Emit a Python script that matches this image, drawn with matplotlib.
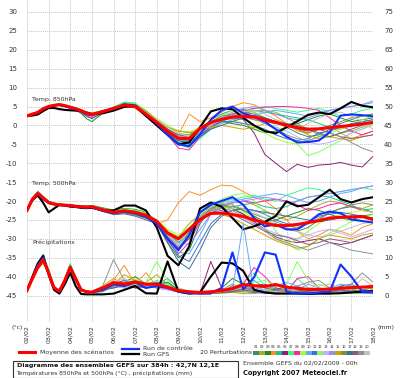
import matplotlib.pyplot as plt
from matplotlib.lines import Line2D
from matplotlib.patches import Rectangle

# time in days from 02/02 00h (6h steps to day 3, then 12h)
t = [0, 0.25, 0.5, 0.75, 1, 1.25, 1.5, 1.75, 2, 2.25, 2.5, 2.75, 3,
     3.5, 4, 4.5, 5, 5.5, 6, 6.5, 7, 7.5, 8, 8.5, 9, 9.5, 10, 10.5, 11,
     11.5, 12, 12.5, 13, 13.5, 14, 14.5, 15, 15.5, 16]
dates = ['02/02', '03/02', '04/02', '05/02', '06/02', '07/02', '08/02', '09/02', '10/02',
         '11/02', '12/02', '13/02', '14/02', '15/02', '16/02', '17/02', '18/02']

mean_850 = [2.5, 3.0, 3.4, 4.4, 5.0, 5.3, 5.5, 5.2, 4.8, 4.4, 3.9, 3.2, 2.9, 3.6, 4.5, 5.4, 5.0, 3.0,
            0.8, -1.6, -3.4, -3.5, -0.8, 0.8, 1.6, 2.2, 2.4, 2.2, 1.5, 0.8, 0.0, -0.6, -1.0, -0.9, -0.6, -0.3, 0.0, 0.4, 0.8]
ctrl_850 = [2.5, 3.0, 3.5, 4.5, 5.0, 5.3, 5.4, 5.1, 4.7, 4.2, 3.7, 3.0, 2.7, 3.8, 4.3, 5.6, 5.3, 3.0,
            0.5, -2.5, -5.0, -5.5, -2.4, 1.5, 4.0, 5.0, 3.2, 2.3, 1.0, -1.0, -3.0, -4.5, -4.4, -4.0, -1.8, 2.6, 2.9, 2.7, 2.4]
gfs_850 = [2.5, 2.6, 2.9, 3.8, 4.6, 4.6, 4.3, 4.1, 4.0, 3.9, 3.8, 3.4, 3.0, 3.2, 3.9, 4.9, 5.1, 2.5,
           0.0, -2.5, -5.0, -4.5, -0.5, 3.7, 4.5, 4.3, 2.0, 0.0, -1.5, -2.1, -0.5, 1.1, 2.8, 3.4, 3.0, 4.5, 6.2, 5.2, 4.8]

mean_500 = [-22.5, -19.5, -18.0, -19.2, -20.4, -20.8, -21.0, -21.1, -21.2, -21.4, -21.5, -21.6, -21.5, -22.3, -23.0, -22.6, -23.0, -23.8,
            -25.4, -28.5, -30.0, -27.5, -24.9, -23.3, -23.2, -23.6, -24.1, -25.0, -25.8, -26.5, -26.5, -26.2, -25.7, -25.2, -24.5, -24.3, -24.2, -24.1, -24.9]
ctrl_500 = [-22.5, -19.5, -18.2, -19.5, -20.5, -20.8, -21.0, -21.2, -21.3, -21.5, -21.6, -21.8, -21.6, -22.6, -23.2, -22.8, -23.3, -24.2,
            -26.0, -30.0, -33.0, -29.0, -23.0, -21.0, -20.0, -19.0, -21.0, -24.5, -26.7, -26.2, -27.5, -27.5, -25.7, -23.5, -22.8, -23.2, -24.9, -25.3, -25.7]
gfs_500 = [-22.5, -19.8, -18.5, -20.5, -23.0, -22.0, -21.0, -21.2, -21.5, -21.6, -21.8, -21.9, -21.8, -22.5, -22.5, -21.2, -21.2, -22.5,
           -27.0, -34.5, -37.0, -32.0, -22.0, -20.4, -21.5, -24.5, -27.5, -26.7, -25.5, -24.0, -20.1, -21.4, -21.0, -19.0, -17.0, -19.5, -20.4, -19.5, -19.0]

mean_rr = [1.3, 4.5, 7.5, 9.5, 6.0, 2.0, 1.2, 4.0, 7.5, 4.5, 1.5, 1.0, 0.9, 2.0, 3.4, 3.0, 3.6, 3.0, 3.0, 2.2, 1.3, 1.0, 0.8,
           1.0, 1.3, 1.8, 2.9, 2.6, 2.4, 2.9, 2.2, 1.9, 1.6, 1.6, 1.7, 1.9, 2.1, 2.2, 2.4]
ctrl_rr = [1.3, 4.5, 8.0, 10.0, 6.0, 2.0, 1.0, 3.8, 7.5, 4.2, 1.5, 1.0, 0.8, 1.5, 3.0, 2.5, 3.5, 2.0, 2.5, 2.0, 1.0, 0.6, 0.5,
           0.6, 2.0, 11.4, 1.6, 4.8, 11.4, 10.8, 1.0, 0.5, 0.5, 0.8, 1.0, 8.2, 5.0, 1.0, 1.0]
gfs_rr = [1.3, 5.0, 8.5, 10.5, 5.5, 1.5, 0.5, 3.0, 6.0, 2.5, 0.4, 0.3, 0.3, 0.3, 0.5, 1.5, 2.5, 0.6, 0.5, 9.0, 1.0, 0.5, 0.8,
          5.0, 8.7, 8.5, 6.5, 1.5, 0.8, 0.5, 0.5, 0.5, 0.4, 0.5, 0.5, 0.6, 0.8, 1.0, 1.2]

# 20 perturbations, 850hPa: days 0-5.5 / days 6-16
pert_850_a = [
    [2.5, 3.1, 3.5, 4.5, 5.1, 5.4, 5.4, 5.0, 4.6, 4.2, 3.6, 2.8, 2.5, 3.5, 4.4, 5.6, 5.3, 3.4],
    [2.5, 3.0, 3.3, 4.3, 4.9, 5.2, 5.5, 5.3, 5.0, 4.6, 4.1, 3.5, 3.2, 3.8, 4.6, 5.5, 5.6, 3.8],
    [2.5, 2.9, 3.3, 4.2, 4.8, 5.1, 5.3, 5.0, 4.5, 4.0, 3.2, 1.8, 1.0, 3.2, 4.3, 5.2, 4.8, 2.4],
    [2.5, 3.1, 3.6, 4.5, 5.1, 5.4, 5.6, 5.3, 4.9, 4.5, 4.0, 3.4, 3.0, 3.4, 4.2, 5.0, 4.6, 2.8],
    [2.5, 3.0, 3.4, 4.4, 5.0, 5.4, 5.7, 5.4, 5.0, 4.5, 3.8, 3.0, 2.6, 3.9, 4.8, 6.0, 5.8, 3.5],
    [2.5, 3.0, 3.5, 4.4, 5.0, 5.2, 5.4, 5.1, 4.7, 4.3, 3.8, 3.1, 2.8, 3.5, 4.5, 5.3, 5.0, 3.0],
    [2.5, 3.1, 3.4, 4.5, 5.1, 5.5, 5.8, 5.5, 5.1, 4.7, 4.0, 3.2, 2.4, 3.6, 4.9, 6.2, 5.9, 3.9],
    [2.5, 2.9, 3.3, 4.3, 4.9, 5.2, 5.4, 5.1, 4.7, 4.2, 3.6, 2.6, 2.0, 3.3, 4.4, 5.3, 4.8, 2.6],
    [2.5, 3.0, 3.4, 4.4, 5.0, 5.3, 5.5, 5.3, 4.9, 4.5, 4.0, 3.4, 3.1, 3.7, 4.6, 5.5, 5.5, 3.6],
    [2.5, 3.0, 3.5, 4.5, 5.0, 5.3, 5.4, 5.1, 4.8, 4.4, 3.9, 3.2, 3.0, 3.7, 4.5, 5.4, 5.0, 3.1],
    [2.5, 3.0, 3.3, 4.3, 4.9, 5.3, 5.5, 5.2, 4.8, 4.3, 3.7, 2.9, 2.5, 3.4, 4.4, 5.3, 4.9, 2.9],
    [2.5, 3.1, 3.5, 4.5, 5.1, 5.4, 5.6, 5.3, 4.9, 4.5, 4.1, 3.5, 3.2, 3.9, 4.7, 5.8, 5.7, 3.7],
    [2.5, 3.0, 3.4, 4.4, 5.0, 5.2, 5.4, 5.2, 4.8, 4.4, 3.8, 3.1, 2.7, 3.5, 4.4, 5.4, 5.1, 3.1],
    [2.5, 3.0, 3.4, 4.4, 5.0, 5.3, 5.5, 5.2, 4.9, 4.5, 4.0, 3.3, 3.1, 3.8, 4.6, 5.5, 5.3, 3.2],
    [2.5, 3.0, 3.5, 4.5, 5.1, 5.4, 5.6, 5.4, 5.0, 4.6, 4.2, 3.6, 3.3, 3.9, 4.7, 5.6, 5.6, 3.9],
    [2.5, 3.0, 3.3, 4.3, 4.9, 5.2, 5.4, 5.1, 4.7, 4.3, 3.7, 3.0, 2.7, 3.6, 4.5, 5.4, 5.2, 3.3],
    [2.5, 2.9, 3.3, 4.3, 4.9, 5.2, 5.3, 5.0, 4.6, 4.1, 3.4, 2.4, 1.8, 3.3, 4.3, 5.2, 4.7, 2.6],
    [2.5, 3.0, 3.4, 4.4, 5.0, 5.3, 5.5, 5.2, 4.8, 4.4, 3.9, 3.2, 2.9, 3.6, 4.5, 5.4, 5.1, 3.2],
    [2.5, 3.0, 3.4, 4.4, 5.0, 5.3, 5.5, 5.3, 4.9, 4.5, 4.0, 3.3, 3.0, 3.6, 4.5, 5.3, 5.0, 3.0],
    [2.5, 3.1, 3.5, 4.5, 5.1, 5.3, 5.5, 5.2, 4.8, 4.4, 3.9, 3.3, 3.0, 3.7, 4.6, 5.5, 5.3, 3.4],
]
pert_850_b = [
    [1.2, -1.0, -3.0, -4.0, -1.5, 1.5, 3.0, 4.0, 4.2, 3.5, 2.0, 1.0, -0.5, -2.0, -3.0, -2.5, -1.0, 0.5, 1.5, 2.5, 3.0],
    [1.5, -0.5, -1.5, -1.8, -1.0, 0.5, 2.0, 2.5, 3.0, 3.8, 4.0, 3.5, 2.0, 0.5, -1.0, -2.5, -3.0, -2.0, -1.5, -0.5, 0.5],
    [0.5, -2.0, -4.5, -5.5, -3.0, 0.0, 1.0, 0.5, 0.0, -1.0, -2.0, -1.5, -0.5, 0.5, 1.5, 2.5, 3.0, 2.0, 1.0, 1.5, 2.0],
    [1.0, -1.5, -2.5, 3.0, 1.0, 2.0, 3.5, 5.0, 6.0, 5.5, 4.0, 2.5, 0.5, -1.5, -2.0, -1.0, 0.0, -2.0, -3.5, -2.5, -1.5],
    [0.8, -1.5, -3.5, -4.5, -2.0, 0.0, 1.5, 2.5, 3.5, 4.0, 3.5, 3.0, 2.5, 2.0, 1.5, 0.5, -0.5, -1.0, 0.0, 1.0, 1.5],
    [1.0, -1.5, -3.5, -4.0, -1.5, 0.5, 1.5, 2.0, 1.6, -2.0, -7.7, -10.0, -12.2, -10.3, -11.1, -10.5, -10.3, -9.8, -10.5, -11.0, -8.2],
    [1.5, -1.0, -5.0, -6.0, -3.5, -1.0, 1.0, 2.0, 3.0, 4.5, 5.0, 4.5, 4.0, 3.5, 4.0, 4.5, 3.5, 2.5, 3.0, 4.0, 4.5],
    [0.5, -2.5, -6.0, -6.5, -3.0, -0.5, 1.5, 3.0, 4.0, 4.5, 4.8, 5.0, 5.0, 4.8, 4.5, 4.0, 2.0, 0.0, -1.5, -2.5, -1.5],
    [1.8, 0.0, -1.5, -1.8, -0.5, 1.0, 2.0, 1.5, 0.5, -0.5, -2.0, -3.5, -4.5, -5.0, -4.0, -3.0, -2.0, -1.0, 0.0, 1.5, 2.5],
    [1.2, -1.0, -3.5, -5.0, -3.0, -1.0, 0.5, 1.5, 2.0, 2.5, 3.5, 4.0, 3.5, 3.0, 2.5, 3.5, 4.0, 4.5, 5.0, 5.5, 6.0],
    [0.5, -2.0, -4.0, -4.5, -2.5, -0.5, 1.0, 1.0, 0.5, 0.0, -1.0, -2.5, -3.5, -4.0, -3.5, -2.0, -1.5, -0.5, 0.5, 1.0, 1.5],
    [1.5, -0.5, -2.0, -2.5, -1.0, 0.5, 2.5, 4.0, 4.5, 3.5, 2.0, 0.0, -2.5, -5.0, -8.0, -7.0, -5.5, -4.0, -2.0, -1.0, 0.0],
    [1.0, -1.5, -3.0, -3.5, -2.0, 0.0, 1.5, 2.5, 2.0, 1.5, 0.5, -0.5, -1.5, -3.0, -4.5, -5.0, -4.5, -3.5, -2.0, -1.0, 0.5],
    [0.8, -1.5, -3.0, -3.0, -1.5, 0.5, 2.0, 3.5, 4.5, 5.0, 4.0, 3.0, 2.0, 1.5, 2.0, 3.0, 4.0, 4.5, 5.0, 5.5, 6.5],
    [1.5, -0.5, -1.5, -2.0, -1.5, -0.5, 0.0, -0.5, -1.0, -0.5, 0.5, 1.5, 0.5, -1.0, -2.5, -3.5, -3.0, -3.5, -4.0, -3.0, -2.5],
    [1.0, -1.0, -2.5, -2.5, -1.0, 1.0, 2.5, 3.0, 2.5, 1.5, 1.0, 0.5, 0.0, -1.0, -2.0, -1.0, 0.0, 1.0, 2.0, 2.5, 3.0],
    [0.5, -2.0, -4.0, -5.0, -3.0, -1.0, 0.0, 1.0, 2.0, 2.5, 2.0, 1.0, 0.5, 0.0, -1.0, -2.0, -3.0, -2.0, -1.0, 0.0, 1.0],
    [1.2, -1.0, -2.5, -3.0, -1.5, 0.0, 1.0, 2.5, 3.5, 3.0, 2.0, 1.0, 0.0, -1.0, -1.5, -1.0, -2.0, -3.0, -3.5, -3.0, -2.5],
    [1.0, -1.5, -3.5, -4.0, -2.0, 0.5, 2.0, 3.0, 3.0, 2.0, 0.5, -1.0, -2.5, -3.5, -4.0, -3.0, -2.0, -3.0, -4.5, -6.0, -7.0],
    [1.5, -0.5, -2.0, -3.0, -1.5, 0.0, 1.5, 2.5, 3.5, 4.0, 3.0, 1.5, 0.0, -1.0, 0.5, 2.0, 3.0, 3.5, 2.5, 1.0, -1.0],
]

# 20 perturbations, 500hPa: days 0-5.5 / days 6-16
pert_500_a = [
    [-22.5, -19.3, -17.6, -19.0, -20.3, -20.7, -20.9, -21.0, -21.1, -21.3, -21.4, -21.5, -21.3, -22.0, -22.6, -22.0, -22.5, -23.3],
    [-22.5, -19.6, -18.2, -19.4, -20.6, -21.0, -21.2, -21.3, -21.4, -21.6, -21.8, -21.9, -21.8, -22.8, -23.5, -23.2, -23.8, -24.6],
    [-22.5, -19.4, -17.9, -19.1, -20.2, -20.6, -20.8, -20.9, -21.0, -21.2, -21.3, -21.3, -21.2, -21.8, -22.4, -22.0, -22.2, -23.0],
    [-22.5, -19.7, -18.4, -19.6, -20.8, -21.1, -21.3, -21.3, -21.3, -21.5, -21.6, -21.7, -21.6, -22.5, -23.4, -23.0, -23.5, -24.5],
    [-22.5, -19.2, -17.4, -18.8, -20.0, -20.5, -20.8, -21.0, -21.0, -21.2, -21.3, -21.4, -21.2, -21.9, -22.7, -22.2, -22.6, -23.4],
    [-22.5, -19.5, -18.1, -19.3, -20.5, -20.9, -21.1, -21.2, -21.3, -21.5, -21.6, -21.7, -21.6, -22.4, -23.1, -22.8, -23.2, -24.0],
    [-22.5, -19.4, -17.8, -19.1, -20.3, -20.7, -20.9, -21.0, -21.1, -21.3, -21.4, -21.5, -21.4, -22.1, -22.7, -22.3, -22.6, -23.3],
    [-22.5, -19.6, -18.3, -19.5, -20.6, -21.0, -21.2, -21.2, -21.3, -21.5, -21.7, -21.8, -21.7, -22.6, -23.3, -23.0, -23.4, -24.3],
    [-22.5, -19.5, -18.0, -19.2, -20.4, -20.8, -21.0, -21.1, -21.2, -21.4, -21.5, -21.6, -21.5, -22.2, -22.8, -22.3, -22.8, -23.6],
    [-22.5, -19.3, -17.7, -19.0, -20.2, -20.6, -20.9, -21.0, -21.1, -21.3, -21.5, -21.6, -21.5, -22.4, -23.2, -22.9, -23.4, -24.3],
    [-22.5, -19.6, -18.2, -19.4, -20.5, -20.9, -21.1, -21.2, -21.3, -21.5, -21.6, -21.7, -21.6, -22.5, -23.3, -23.1, -23.6, -24.5],
    [-22.5, -19.4, -17.9, -19.1, -20.3, -20.7, -20.9, -21.0, -21.1, -21.3, -21.4, -21.4, -21.3, -22.0, -22.6, -22.1, -22.4, -23.1],
    [-22.5, -19.5, -18.0, -19.3, -20.5, -20.9, -21.1, -21.2, -21.3, -21.5, -21.6, -21.7, -21.6, -22.4, -23.0, -22.6, -23.0, -23.9],
    [-22.5, -19.5, -18.1, -19.2, -20.4, -20.8, -21.0, -21.1, -21.2, -21.4, -21.5, -21.6, -21.5, -22.3, -23.1, -22.7, -23.1, -24.0],
    [-22.5, -19.6, -18.3, -19.4, -20.5, -20.9, -21.0, -21.1, -21.2, -21.3, -21.4, -21.5, -21.4, -22.1, -22.8, -22.4, -22.7, -23.4],
    [-22.5, -19.4, -17.8, -19.1, -20.3, -20.8, -21.0, -21.1, -21.2, -21.4, -21.5, -21.6, -21.5, -22.3, -23.0, -22.6, -23.1, -23.9],
    [-22.5, -19.5, -18.1, -19.3, -20.5, -20.9, -21.1, -21.2, -21.4, -21.6, -21.7, -21.8, -21.7, -22.7, -23.6, -23.4, -24.0, -25.0],
    [-22.5, -19.5, -18.0, -19.2, -20.4, -20.8, -21.0, -21.1, -21.2, -21.4, -21.5, -21.6, -21.5, -22.2, -22.9, -22.5, -22.9, -23.7],
    [-22.5, -19.4, -17.9, -19.2, -20.4, -20.8, -21.0, -21.1, -21.2, -21.4, -21.6, -21.7, -21.6, -22.5, -23.2, -22.9, -23.3, -24.1],
    [-22.5, -19.6, -18.2, -19.3, -20.5, -20.9, -21.1, -21.2, -21.2, -21.4, -21.5, -21.6, -21.5, -22.3, -23.0, -22.6, -23.1, -23.8],
]
pert_500_b = [
    [-26.0, -30.0, -33.0, -28.0, -23.0, -21.5, -21.0, -22.0, -23.5, -25.0, -26.0, -26.5, -27.5, -28.0, -27.0, -25.0, -23.0, -22.0, -21.5, -22.0, -23.0],
    [-25.0, -28.0, -29.5, -26.0, -23.5, -22.0, -21.5, -20.5, -20.0, -21.0, -22.5, -24.0, -25.0, -24.0, -22.5, -21.0, -20.0, -20.5, -21.5, -22.0, -21.0],
    [-26.0, -31.0, -35.0, -33.0, -26.0, -22.0, -20.5, -21.0, -22.5, -24.0, -25.5, -25.0, -24.0, -23.0, -22.0, -22.5, -23.5, -24.5, -25.0, -24.0, -23.5],
    [-26.0, -25.0, -20.5, -17.5, -18.5, -17.0, -15.8, -16.0, -17.5, -19.0, -20.0, -22.0, -25.0, -28.0, -30.0, -29.0, -27.5, -28.0, -29.0, -27.0, -26.0],
    [-25.5, -29.0, -32.0, -30.0, -24.0, -22.5, -22.0, -21.5, -21.0, -20.5, -21.5, -22.0, -21.5, -20.0, -19.0, -18.5, -19.0, -20.0, -21.0, -22.5, -22.0],
    [-25.5, -29.0, -32.5, -29.0, -24.0, -22.0, -21.5, -22.0, -23.5, -25.5, -27.5, -29.5, -30.5, -31.0, -30.5, -30.0, -31.0, -31.5, -31.0, -30.0, -29.0],
    [-25.0, -28.0, -31.0, -29.5, -25.0, -22.0, -20.5, -19.5, -19.0, -18.5, -19.5, -20.0, -18.5, -17.5, -16.5, -17.0, -18.0, -17.5, -17.0, -16.5, -17.0],
    [-26.0, -30.5, -34.0, -31.0, -25.5, -22.5, -21.0, -20.5, -20.0, -20.5, -20.0, -19.5, -20.0, -21.0, -22.5, -22.0, -21.0, -20.5, -21.5, -22.5, -23.0],
    [-25.0, -27.5, -29.0, -27.0, -24.0, -22.0, -21.5, -22.0, -23.0, -24.5, -27.0, -30.0, -31.5, -30.0, -28.0, -26.0, -24.5, -23.5, -23.0, -22.5, -23.0],
    [-25.5, -29.5, -33.5, -34.0, -29.0, -23.5, -21.0, -20.0, -19.5, -19.0, -18.5, -18.0, -18.5, -19.5, -20.5, -20.0, -19.0, -18.0, -17.5, -16.5, -16.0],
    [-26.0, -30.0, -34.5, -36.0, -31.0, -26.0, -23.5, -22.5, -22.0, -22.5, -23.5, -25.0, -26.0, -26.5, -25.5, -24.0, -23.5, -23.0, -23.5, -24.0, -24.5],
    [-25.0, -28.0, -30.5, -28.0, -23.5, -21.0, -19.5, -18.5, -18.0, -20.0, -23.0, -28.0, -31.0, -33.0, -32.0, -30.0, -28.5, -27.0, -25.5, -24.5, -23.5],
    [-25.5, -29.0, -31.5, -29.5, -25.0, -22.5, -22.0, -23.0, -24.5, -26.0, -27.5, -28.5, -29.5, -30.0, -29.0, -28.0, -27.5, -28.5, -29.5, -28.5, -27.5],
    [-25.5, -28.5, -31.0, -31.5, -27.5, -23.5, -21.5, -20.5, -20.0, -19.5, -19.0, -19.5, -20.5, -20.0, -19.0, -18.5, -18.0, -17.5, -17.0, -16.5, -16.0],
    [-25.0, -28.0, -30.0, -27.5, -24.0, -23.0, -23.5, -24.5, -26.0, -27.5, -29.0, -30.5, -31.5, -32.5, -32.0, -30.0, -29.0, -29.5, -30.0, -29.0, -28.5],
    [-25.5, -29.0, -32.0, -30.0, -24.5, -22.0, -21.0, -21.5, -22.5, -23.5, -24.5, -25.5, -26.5, -27.0, -26.0, -24.5, -23.0, -22.0, -21.0, -20.5, -21.0],
    [-26.0, -31.0, -36.0, -38.0, -33.0, -27.0, -24.0, -22.5, -22.0, -22.5, -23.0, -23.5, -24.0, -24.5, -25.0, -25.5, -25.0, -24.5, -24.0, -24.0, -24.5],
    [-25.5, -29.5, -32.5, -30.0, -25.0, -23.0, -22.5, -23.5, -25.0, -26.5, -28.0, -29.0, -29.5, -30.5, -31.5, -31.0, -30.0, -30.5, -31.0, -30.0, -29.0],
    [-25.0, -28.5, -31.0, -28.5, -24.5, -22.5, -22.0, -22.5, -24.0, -26.0, -28.0, -30.0, -31.0, -32.0, -33.0, -32.0, -31.0, -32.0, -33.0, -33.5, -34.0],
    [-25.5, -29.0, -32.0, -29.0, -24.0, -21.5, -20.5, -21.0, -22.0, -23.0, -24.5, -26.0, -27.0, -28.0, -29.0, -29.5, -29.0, -28.0, -27.0, -26.0, -25.5],
]

# 20 perturbations, precipitation (mm)
pert_rr = [
    [1.3, 4.5, 7.5, 9.5, 6.0, 2.0, 1.0, 4.0, 7.5, 4.0, 1.5, 1.0, 0.8, 1.5, 3.5, 2.5, 4.0, 2.5, 3.0, 2.5, 1.5, 0.8, 0.5, 0.5, 1.0, 1.5, 2.5, 1.5, 1.0, 2.0, 1.5, 1.0, 0.8, 1.0, 1.5, 2.5, 3.0, 1.5, 1.0],
    [1.3, 4.0, 7.0, 8.5, 6.0, 2.5, 1.2, 4.5, 8.0, 4.5, 1.8, 1.2, 1.0, 2.5, 4.5, 3.0, 2.0, 3.5, 5.5, 3.0, 1.0, 0.6, 0.5, 1.0, 1.5, 0.8, 0.5, 0.5, 1.0, 1.5, 2.0, 1.0, 0.5, 0.5, 0.8, 1.5, 1.0, 0.8, 0.6],
    [1.3, 5.0, 8.0, 10.5, 6.5, 2.0, 1.0, 3.5, 7.0, 4.0, 1.5, 1.0, 0.8, 1.0, 2.5, 3.5, 5.0, 3.0, 2.5, 2.0, 1.5, 1.0, 0.5, 0.8, 2.0, 4.5, 3.0, 1.5, 0.8, 0.5, 0.8, 1.2, 1.0, 0.5, 0.5, 0.8, 1.0, 1.5, 2.0],
    [1.3, 4.5, 7.5, 9.0, 5.5, 1.8, 1.0, 3.8, 7.0, 3.8, 1.4, 1.0, 0.9, 2.0, 4.0, 8.0, 3.0, 6.0, 2.5, 3.5, 1.5, 0.8, 0.5, 0.5, 0.8, 1.0, 2.0, 1.5, 0.8, 1.0, 0.5, 0.5, 0.8, 1.5, 1.0, 0.8, 1.5, 2.5, 1.5],
    [1.3, 4.8, 8.0, 10.0, 6.5, 2.2, 1.2, 4.2, 8.0, 4.5, 1.6, 1.0, 0.9, 1.5, 3.0, 2.0, 3.5, 2.5, 3.0, 4.5, 2.0, 1.0, 0.6, 0.6, 0.8, 1.5, 2.5, 4.0, 2.0, 1.0, 0.8, 0.6, 0.5, 0.8, 1.2, 1.0, 0.8, 0.6, 0.5],
    [1.3, 4.5, 7.5, 9.5, 6.0, 2.0, 1.0, 4.0, 7.5, 4.0, 1.5, 1.0, 0.8, 1.5, 3.0, 4.0, 2.5, 2.0, 3.0, 2.0, 1.0, 0.5, 0.5, 9.0, 2.0, 1.0, 1.5, 2.5, 3.0, 1.5, 1.0, 0.8, 0.5, 0.6, 0.8, 1.0, 0.8, 0.6, 0.8],
    [1.3, 5.0, 8.5, 11.0, 7.0, 2.5, 1.2, 4.5, 8.5, 5.0, 1.8, 1.2, 1.0, 2.0, 2.5, 3.5, 4.0, 3.0, 4.0, 3.0, 1.5, 0.8, 0.5, 0.8, 1.0, 2.0, 3.5, 6.0, 2.5, 1.5, 1.0, 4.5, 2.0, 1.0, 0.8, 1.5, 2.0, 1.0, 0.8],
    [1.3, 4.2, 7.0, 9.0, 5.5, 1.8, 1.0, 3.6, 7.0, 3.8, 1.4, 1.0, 0.8, 1.8, 3.0, 2.5, 3.5, 2.5, 2.0, 1.5, 1.0, 0.6, 0.5, 0.5, 0.8, 1.5, 3.0, 7.4, 5.0, 2.0, 1.0, 4.5, 5.0, 2.0, 1.0, 0.8, 0.6, 1.5, 1.0],
    [1.3, 4.6, 7.8, 9.8, 6.2, 2.1, 1.1, 4.1, 7.8, 4.3, 1.6, 1.1, 0.9, 2.5, 3.5, 3.0, 4.5, 3.0, 2.5, 3.0, 2.0, 1.0, 0.6, 0.6, 1.0, 2.5, 1.5, 1.0, 0.8, 2.5, 2.0, 1.0, 1.5, 3.0, 2.0, 1.0, 0.8, 0.6, 0.5],
    [1.3, 4.4, 7.3, 9.2, 5.8, 1.9, 1.0, 3.9, 7.4, 4.0, 1.5, 1.0, 0.8, 1.2, 2.5, 3.0, 2.0, 2.5, 3.5, 2.5, 1.2, 0.7, 0.5, 0.5, 1.2, 1.5, 19.0, 1.0, 1.5, 2.5, 3.5, 2.5, 1.5, 1.0, 2.0, 3.0, 2.5, 1.5, 1.0],
    [1.3, 4.5, 7.6, 9.6, 6.1, 2.0, 1.0, 4.0, 7.6, 4.1, 1.5, 1.0, 0.8, 1.5, 2.0, 2.5, 3.0, 2.0, 2.5, 1.8, 1.0, 0.6, 0.5, 0.5, 0.8, 1.2, 1.0, 0.8, 0.6, 0.8, 1.0, 0.8, 0.6, 0.5, 0.8, 1.2, 1.0, 0.8, 0.6],
    [1.3, 5.0, 8.2, 10.2, 6.4, 2.1, 1.1, 4.3, 7.9, 4.4, 1.6, 1.1, 0.9, 2.0, 3.0, 2.5, 3.0, 3.5, 9.0, 4.0, 2.0, 0.8, 0.5, 0.6, 1.0, 1.5, 2.0, 3.5, 4.0, 2.5, 3.0, 9.0, 4.0, 2.0, 1.0, 0.8, 0.6, 0.5, 0.8],
    [1.3, 4.3, 7.2, 9.0, 5.7, 1.9, 1.0, 3.8, 7.2, 3.9, 1.5, 1.0, 0.8, 1.5, 2.5, 2.0, 3.0, 2.5, 2.0, 1.5, 1.0, 0.6, 0.5, 0.5, 1.0, 1.5, 2.5, 2.0, 1.5, 1.0, 1.5, 2.0, 1.5, 1.0, 1.5, 2.0, 1.5, 1.0, 1.2],
    [1.3, 4.6, 7.7, 9.7, 6.1, 2.0, 1.1, 4.1, 7.7, 4.2, 1.6, 1.0, 0.9, 1.8, 3.5, 2.5, 4.0, 3.0, 3.5, 2.5, 1.5, 0.8, 0.5, 0.5, 0.8, 1.0, 1.5, 2.0, 1.5, 1.0, 0.8, 1.5, 3.0, 2.0, 1.5, 1.0, 0.8, 0.6, 0.5],
    [1.3, 4.4, 7.4, 9.3, 5.9, 2.0, 1.0, 3.9, 7.5, 4.1, 1.5, 1.0, 0.8, 1.5, 3.0, 5.5, 4.0, 2.5, 3.0, 2.0, 1.0, 0.6, 0.5, 0.5, 0.6, 0.8, 1.0, 1.5, 1.0, 0.8, 0.6, 1.0, 2.0, 1.5, 1.0, 2.5, 1.5, 1.0, 0.8],
    [1.3, 4.5, 7.5, 9.4, 6.0, 2.0, 1.0, 4.0, 7.5, 4.0, 1.5, 1.0, 0.8, 1.2, 2.5, 3.5, 2.5, 3.0, 2.0, 2.5, 1.5, 0.7, 0.5, 0.6, 0.8, 1.0, 1.5, 2.5, 2.0, 1.5, 1.0, 0.8, 0.6, 0.8, 1.0, 1.5, 1.2, 0.8, 0.6],
    [1.3, 4.7, 7.9, 9.9, 6.3, 2.1, 1.1, 4.2, 7.8, 4.3, 1.6, 1.1, 0.9, 1.5, 2.0, 3.0, 3.5, 2.5, 3.0, 3.5, 1.5, 0.8, 0.5, 0.5, 0.8, 1.0, 2.0, 1.5, 1.0, 1.5, 2.5, 1.5, 1.0, 0.8, 1.0, 2.5, 1.5, 1.0, 0.8],
    [1.3, 4.3, 7.1, 9.0, 5.6, 1.9, 1.0, 3.7, 7.1, 3.9, 1.4, 1.0, 0.8, 1.5, 2.5, 3.0, 2.0, 2.5, 3.5, 2.0, 1.0, 0.6, 0.5, 0.5, 1.0, 2.5, 1.5, 1.0, 0.8, 0.6, 0.8, 1.0, 0.8, 0.6, 1.0, 1.5, 1.0, 0.8, 0.6],
    [1.3, 4.8, 8.1, 10.3, 6.5, 2.2, 1.2, 4.3, 8.1, 4.5, 1.7, 1.1, 0.9, 2.5, 9.5, 4.0, 3.0, 2.5, 3.0, 2.5, 1.5, 0.8, 0.5, 0.5, 1.5, 3.0, 2.0, 1.5, 1.0, 0.8, 1.5, 2.5, 3.5, 4.0, 2.0, 1.5, 3.0, 6.0, 3.5],
    [1.3, 4.4, 7.4, 9.4, 5.9, 1.9, 1.0, 3.9, 7.4, 4.0, 1.5, 1.0, 0.8, 1.5, 3.5, 4.5, 3.0, 2.5, 2.5, 2.0, 1.5, 0.7, 0.5, 0.6, 1.0, 1.5, 2.0, 2.5, 1.5, 1.0, 0.8, 1.5, 2.0, 2.5, 3.0, 2.0, 1.5, 4.5, 2.5],
]

member_colors = ['#3a8a7a', '#a8b020', '#208a20', '#ff9020', '#20c090', '#902070', '#30ff80', '#ff20b0',
                 '#a0ff30', '#60a8ff', '#4070d0', '#80ff60', '#c0b0ff', '#9090ff', '#d0a000', '#809040',
                 '#407090', '#806080', '#909090', '#c0c0c0']

W, H = 400, 378


def fx(x):
    return x / W


def fy(y):
    return 1 - y / H


fig = plt.figure(figsize=(W / 100, H / 100), dpi=100)
fig.patch.set_facecolor('white')

# left scale: 3.78 px per degree, 0 at y=125.4 px
y_top = 125.4 / 3.78
y_bot = (125.4 - 322) / 3.78
ax = fig.add_axes([fx(27), fy(322), (373 - 27) / W, 322 / H])
ax.set_xlim(0, 16)
ax.set_ylim(y_bot, y_top)
ax.set_xticks(range(17))
ax.set_xticklabels(dates, rotation=90, fontsize=4.5, color='#333333')
ax.set_yticks(range(-45, 31, 5))
ax.set_yticklabels([str(v) for v in range(-45, 31, 5)], fontsize=5, color='#333333')
ax.tick_params(length=0, pad=2.5, axis='x')
ax.tick_params(length=0, pad=7, axis='y')
ax.grid(color='#c4c4c4', linestyle=(0, (1, 1)), linewidth=0.7)
for s in ax.spines.values():
    s.set_visible(False)

ax2 = ax.twinx()
ax2.set_ylim(y_bot + 45, y_top + 45)
ax2.set_yticks(range(0, 76, 5))
ax2.set_yticklabels([str(v) for v in range(0, 76, 5)], fontsize=5, color='#333333')
ax2.tick_params(length=0, pad=8)
for s in ax2.spines.values():
    s.set_visible(False)

for i in range(20):
    c = member_colors[i]
    ax.plot(t, pert_850_a[i] + pert_850_b[i], color=c, lw=0.7)
    ax.plot(t, pert_500_a[i] + pert_500_b[i], color=c, lw=0.7)
    ax2.plot(t, pert_rr[i], color=c, lw=0.7)

for a, g, cl, m in [(ax, gfs_850, ctrl_850, mean_850), (ax, gfs_500, ctrl_500, mean_500),
                    (ax2, gfs_rr, ctrl_rr, mean_rr)]:
    a.plot(t, g, color='black', lw=1.5)
    a.plot(t, cl, color='#1030ff', lw=1.5)
    a.plot(t, m, color='#ff0000', lw=2.2)

ax.text(0.25, (125.4 - 99) / 3.78, 'Temp. 850hPa', fontsize=4.5, va='center', color='#333333')
ax.text(0.25, (125.4 - 184) / 3.78, 'Temp. 500hPa', fontsize=4.5, va='center', color='#333333')
ax.text(0.25, (125.4 - 242) / 3.78, 'Précipitations', fontsize=4.5, va='center', color='#333333')

fig.text(fx(12), fy(327), '(°c)', fontsize=4.5, va='center', color='#333333')
fig.text(fx(377), fy(327), '(mm)', fontsize=4.5, va='center', color='#333333')

# legend
fig.add_artist(Line2D([fx(19), fx(35)], [fy(352), fy(352)], color='#ff0000', lw=2.2))
fig.text(fx(40), fy(352), 'Moyenne des scénarios', fontsize=4.5, va='center', color='#333333')
fig.add_artist(Line2D([fx(122), fx(139)], [fy(349), fy(349)], color='#1030ff', lw=1.6))
fig.add_artist(Line2D([fx(122), fx(139)], [fy(354), fy(354)], color='black', lw=1.6))
fig.text(fx(143), fy(348.5), 'Run de contrôle', fontsize=4.5, va='center', color='#333333')
fig.text(fx(143), fy(355), 'Run GFS', fontsize=4.5, va='center', color='#333333')
fig.text(fx(200), fy(352.5), '20 Perturbations', fontsize=4.5, va='center', color='#333333')
bw = (370 - 253) / 20
for i in range(20):
    x0 = 253 + i * bw
    fig.add_artist(Rectangle((fx(x0), fy(354.5)), bw / W, 3.5 / H, color=member_colors[i], lw=0))
    fig.text(fx(x0 + bw / 2), fy(347), '%02d' % (i + 1), fontsize=2.6, ha='center', va='center', color='#333333')

# title boxes
fig.add_artist(Rectangle((fx(13), fy(377.5)), (238 - 13) / W, 16.5 / H, fill=False, ec='#333333', lw=0.8))
fig.text(fx(17), fy(366), 'Diagramme des ensembles GEFS sur 384h : 42,7N 12,1E', fontsize=4.6,
         fontweight='bold', va='center', color='#111111')
fig.text(fx(16), fy(373.5), 'Températures 850hPa et 500hPa (°C) , précipitations (mm)', fontsize=4.3,
         va='center', color='#333333')
fig.text(fx(243), fy(363), 'Ensemble GEFS du 02/02/2009 - 00h', fontsize=4.5, va='center', color='#333333')
fig.text(fx(243), fy(373.5), 'Copyright 2007 Meteociel.fr', fontsize=4.8, fontweight='bold',
         va='center', color='#111111')

fig.savefig('out.png', dpi=100)
